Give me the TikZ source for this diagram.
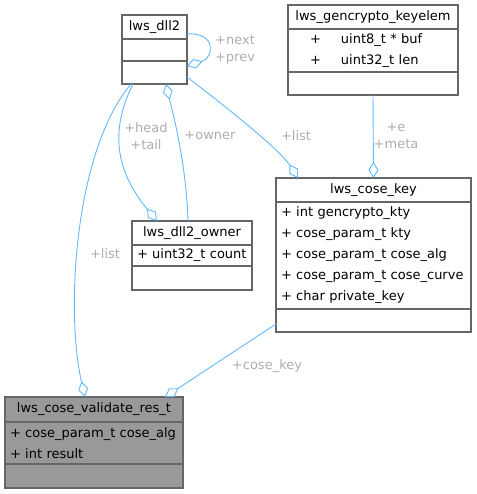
\documentclass[tikz,border=0pt]{standalone}
\usepackage{fontspec}
\setmainfont{DejaVu Sans}
\usetikzlibrary{arrows.meta,positioning}
\definecolor{edgeblue}{HTML}{63B8FF}
\definecolor{labelgray}{HTML}{ADADAD}
\definecolor{framegray}{HTML}{666666}
\definecolor{focusfill}{HTML}{999999}

\begin{document}
\begin{tikzpicture}[x=1pt,y=1pt,node distance=0pt, every node/.style={font=\fontsize{13}{21}\selectfont,inner sep=0pt,outer sep=0pt}, part/.style={draw=framegray,line width=1.2pt,fill=white}, title/.style={part,minimum height=24pt,anchor=north west,align=center}, fields/.style={part,inner xsep=5pt,align=left}, lbl/.style={text=labelgray,align=center,font=\fontsize{13}{17}\selectfont}, rel/.style={draw=edgeblue,line width=0.9pt}, >={Diamond[open,length=16pt,width=10pt,line width=0.9pt]}]
\useasboundingbox (0,0) rectangle (476,-494);
\node[title,minimum width=65pt] (dll2) at (122,-15) {lws\_dll2};
\node[part,minimum width=65pt,minimum height=22pt,below=of dll2] (dll2-f) {};
\node[part,minimum width=65pt,minimum height=23pt,below=of dll2-f] (dll2-m) {};
\node[title,minimum width=170pt] (keyelem) at (288,-5) {lws\_gencrypto\_keyelem};
\node[fields,inner xsep=0pt,text width=170pt,minimum height=43pt,below=of keyelem] (keyelem-f) {\hspace*{22pt}\makebox[31pt][l]{+}uint8\_t * buf\\\hspace*{22pt}\makebox[31pt][l]{+}uint32\_t len};
\node[part,minimum width=170pt,minimum height=23pt,below=of keyelem-f] (keyelem-m) {};
\node[title,minimum width=120pt] (owner) at (132,-221) {lws\_dll2\_owner};
\node[fields,text width=110pt,minimum height=21pt,below=of owner] (owner-f) {+ uint32\_t count};
\node[part,minimum width=120pt,minimum height=24pt,below=of owner-f] (owner-m) {};
\node[title,minimum width=195pt] (key) at (276,-178) {lws\_cose\_key};
\node[fields,text width=185pt,minimum height=107pt,below=of key] (key-f) {+ int gencrypto\_kty\\+ cose\_param\_t kty\\+ cose\_param\_t cose\_alg\\+ cose\_param\_t cose\_curve\\+ char private\_key};
\node[part,minimum width=195pt,minimum height=23pt,below=of key-f] (key-m) {};
\node[title,minimum width=178pt,minimum height=25pt,fill=focusfill] (res) at (5,-397) {lws\_cose\_validate\_res\_t};
\node[fields,text width=168pt,minimum height=42pt,fill=focusfill,below=of res] (res-f) {+ cose\_param\_t cose\_alg\\+ int result};
\node[part,minimum width=178pt,minimum height=24pt,fill=focusfill,below=of res-f] (res-m) {};
\draw[rel,->] ([yshift=-7pt]dll2.east) .. controls +(30,2) and (214,-58) .. ([yshift=6.5pt]dll2-m.east);
\node[lbl] (l-next) at (235,-50) {+next\\+prev};
\draw[rel,->] ([xshift=11pt]dll2-m.south west) .. controls (110,-130) and (115,-170) .. ([xshift=-35pt]owner.north);
\node[lbl] (l-head) at (146,-136) {+head\\+tail};
\draw[rel,->] ([xshift=-4pt]owner.north) .. controls (186,-160) and (172,-110) .. ([xshift=44pt]dll2-m.south west);
\node[lbl] (l-owner) at (210,-136) {+owner};
\draw[rel,->] ([yshift=-4.5pt]dll2-m.east) .. controls (230,-110) and (280,-150) .. ([xshift=22pt]key.north west);
\node[lbl] (l-list) at (296,-136) {+list};
\draw[rel,->] (keyelem-m.south) -- (key.north);
\node[lbl] (l-meta) at (396,-136) {+e\\+meta};
\draw[rel,->] ([xshift=9pt]dll2-m.south west) .. controls (75,-150) and (65,-310) .. ([xshift=80pt]res.north west);
\node[lbl] (l-list2) at (105,-254) {+list};
\draw[rel,->] ([yshift=-3.5pt]key-m.west) -- ([xshift=160pt]res.north west);
\node[lbl] (l-key) at (267,-366) {+cose\_key};
\end{tikzpicture}
\end{document}
